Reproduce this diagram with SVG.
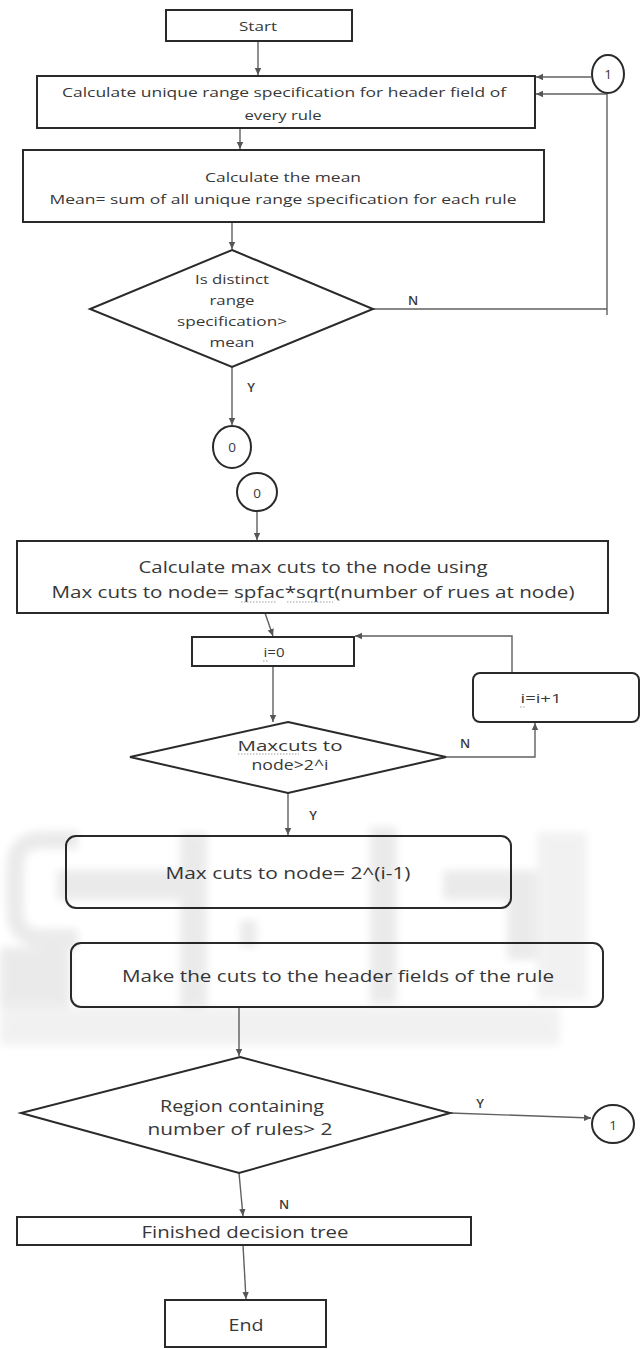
<svg xmlns="http://www.w3.org/2000/svg" width="643" height="1349" viewBox="0 0 643 1349">
<defs>
<marker id="arr" markerUnits="userSpaceOnUse" markerWidth="8" markerHeight="8" refX="7" refY="4" orient="auto">
<path d="M0,0.8 L7,4 L0,7.2 z" fill="#555"/>
</marker>
<filter id="soft" x="-10%" y="-10%" width="120%" height="120%">
<feGaussianBlur stdDeviation="4"/>
</filter>
<style>
.box{fill:#fff;stroke:#2a2a2a;stroke-width:2}
.con{fill:none;stroke:#606060;stroke-width:1.4}
.t{font-family:"Open Sans","Liberation Sans",sans-serif;fill:#383838;text-anchor:middle;dominant-baseline:central}
.s{font-size:13.5px}
.m{font-size:16px}
.d{font-size:14.5px}
.lbl{font-family:"Open Sans","Liberation Sans",sans-serif;fill:#3a3a3a;font-size:13px;font-weight:600;text-anchor:middle;dominant-baseline:central}
.sq{fill:none;stroke:#a0a0a0;stroke-width:1;stroke-dasharray:1.5 1.5}
.wm{fill:#000;stroke:none}
</style>
</defs>
<rect width="643" height="1349" fill="#fff"/>

<g id="connectors">
<path class="con" d="M258 41 V75" marker-end="url(#arr)"/>
<path class="con" d="M591 77 H536" marker-end="url(#arr)"/>
<path class="con" d="M240 128 V149" marker-end="url(#arr)"/>
<path class="con" d="M232 222 V249" marker-end="url(#arr)"/>
<path class="con" d="M373 309 H607 M607 315 V94 H536" marker-end="url(#arr)"/>
<path class="con" d="M232 367 V425" marker-end="url(#arr)"/>
<path class="con" d="M257 511 V540" marker-end="url(#arr)"/>
<path class="con" d="M265 613 L273 636" marker-end="url(#arr)"/>
<path class="con" d="M512 673 V636 H355" marker-end="url(#arr)"/>
<path class="con" d="M273 666 V722" marker-end="url(#arr)"/>
<path class="con" d="M446 757 H535 V723" marker-end="url(#arr)"/>
<path class="con" d="M288 793 V835" marker-end="url(#arr)"/>
<path class="con" d="M239 1007 V1056" marker-end="url(#arr)"/>
<path class="con" d="M450 1113 L591 1118" marker-end="url(#arr)"/>
<path class="con" d="M239 1173 L243 1216" marker-end="url(#arr)"/>
<path class="con" d="M243 1245 L246 1299" marker-end="url(#arr)"/>
<text class="lbl" x="413" y="300">N</text>
<text class="lbl" x="251" y="387">Y</text>
<text class="lbl" x="465" y="743">N</text>
<text class="lbl" x="313" y="815">Y</text>
<text class="lbl" x="480" y="1103">Y</text>
<text class="lbl" x="284" y="1204">N</text>
</g>

<g id="start">
<rect class="box" x="166" y="10" width="186" height="31"/>
<text class="t s" x="258" y="26" textLength="38" lengthAdjust="spacingAndGlyphs">Start</text>
</g>

<g id="connector-1-top">
<ellipse class="box" cx="608" cy="74" rx="16" ry="19"/>
<text class="t s" x="608" y="74">1</text>
</g>

<g id="calc-unique">
<rect class="box" x="37" y="76" width="498" height="52"/>
<text class="t s" x="284" y="92" textLength="444" lengthAdjust="spacingAndGlyphs">Calculate unique range specification for header  field of</text>
<text class="t s" x="283" y="115" textLength="77" lengthAdjust="spacingAndGlyphs">every rule</text>
</g>

<g id="calc-mean">
<rect class="box" x="23" y="150" width="521" height="72"/>
<text class="t s" x="283" y="177" textLength="156" lengthAdjust="spacingAndGlyphs">Calculate the mean</text>
<text class="t s" x="283" y="199" textLength="467" lengthAdjust="spacingAndGlyphs">Mean= sum of all unique  range specification for each rule</text>
</g>

<g id="decision-distinct">
<polygon class="box" points="232,250 373,309 232,367 90,309"/>
<text class="t s" x="232" y="279" textLength="74" lengthAdjust="spacingAndGlyphs">Is distinct</text>
<text class="t s" x="232" y="300" textLength="45" lengthAdjust="spacingAndGlyphs">range</text>
<text class="t s" x="232" y="321" textLength="110" lengthAdjust="spacingAndGlyphs">specification&gt;</text>
<text class="t s" x="232" y="342" textLength="45" lengthAdjust="spacingAndGlyphs">mean</text>
</g>

<g id="connector-0-out">
<ellipse class="box" cx="232" cy="447" rx="19" ry="21"/>
<text class="t s" x="232" y="447">0</text>
</g>

<g id="connector-0-in">
<ellipse class="box" cx="257" cy="492" rx="20" ry="19"/>
<text class="t s" x="257" y="493">0</text>
</g>

<g id="calc-maxcuts">
<rect class="box" x="17" y="541" width="591" height="72"/>
<text class="t m" x="313" y="567" textLength="349" lengthAdjust="spacingAndGlyphs">Calculate max cuts to the node using</text>
<text class="t m" x="313" y="592" textLength="523" lengthAdjust="spacingAndGlyphs">Max cuts to node= spfac*sqrt(number  of rues at node)</text>
<path class="sq" d="M241 602 H276 M287 602 H333"/>
</g>

<g id="i-zero">
<rect class="box" x="192" y="637" width="162" height="29"/>
<text class="t s" x="274" y="652" textLength="21" lengthAdjust="spacingAndGlyphs">i=0</text>
<path class="sq" d="M263 661 H269"/>
</g>

<g id="i-increment">
<rect class="box" x="473" y="673" width="166" height="49" rx="7"/>
<text class="t s" x="541" y="698" textLength="41" lengthAdjust="spacingAndGlyphs">i=i+1</text>
<path class="sq" d="M520 707 H526"/>
</g>

<g id="decision-maxcuts">
<polygon class="box" points="288,722 446,757 288,793 130,757"/>
<text class="t d" x="290" y="745" textLength="105" lengthAdjust="spacingAndGlyphs">Maxcuts to</text>
<text class="t d" x="290" y="764" textLength="77" lengthAdjust="spacingAndGlyphs">node&gt;2^i</text>
<path class="sq" d="M238 754 H299"/>
</g>

<g id="set-maxcuts">
<rect class="box" x="66" y="836" width="445" height="72" rx="10"/>
<text class="t m" x="288" y="873" textLength="245" lengthAdjust="spacingAndGlyphs">Max cuts to node= 2^(i-1)</text>
</g>

<g id="make-cuts">
<rect class="box" x="71" y="943" width="532" height="64" rx="10"/>
<text class="t m" x="338" y="976" textLength="432" lengthAdjust="spacingAndGlyphs">Make the cuts to the header  fields of the rule</text>
</g>

<g id="decision-region">
<polygon class="box" points="240,1057 450,1113 239,1173 21,1113"/>
<text class="t m" x="242" y="1106" textLength="164" lengthAdjust="spacingAndGlyphs">Region containing</text>
<text class="t m" x="240" y="1129" textLength="185" lengthAdjust="spacingAndGlyphs">number of rules&gt; 2</text>
</g>

<g id="connector-1-bottom">
<ellipse class="box" cx="613" cy="1124" rx="21" ry="19"/>
<text class="t s" x="613" y="1125">1</text>
</g>

<g id="finished">
<rect class="box" x="17" y="1217" width="454" height="28"/>
<text class="t m" x="245" y="1232" textLength="207" lengthAdjust="spacingAndGlyphs">Finished decision tree</text>
</g>

<g id="end">
<rect class="box" x="165" y="1300" width="161" height="47"/>
<text class="t m" x="246" y="1325" textLength="35" lengthAdjust="spacingAndGlyphs">End</text>
</g>

<g id="watermark" opacity="0.08" filter="url(#soft)">
<path d="M78 840 H42 Q15 840 15 868 V910 Q15 938 42 938 H78" fill="none" stroke="#000" stroke-width="18"/>
<rect class="wm" x="57" y="870" width="130" height="30"/>
<rect class="wm" x="0" y="947" width="70" height="60"/>
<rect class="wm" x="180" y="833" width="27" height="174"/>
<rect class="wm" x="240" y="920" width="17" height="27"/>
<rect class="wm" x="370" y="827" width="27" height="176"/>
<rect class="wm" x="443" y="870" width="94" height="30"/>
<rect class="wm" x="507" y="900" width="30" height="60"/>
</g>
<g id="watermark-faint" opacity="0.05" filter="url(#soft)">
<rect class="wm" x="0" y="1007" width="560" height="38"/>
<rect class="wm" x="537" y="832" width="50" height="168"/>
</g>
</svg>
